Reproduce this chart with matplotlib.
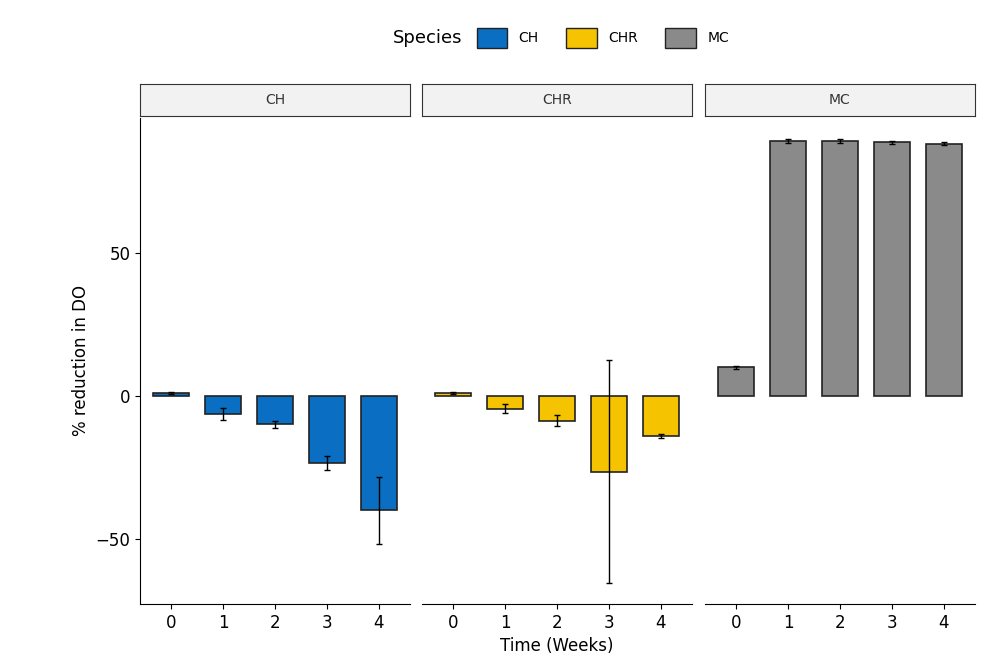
import matplotlib.pyplot as plt
from matplotlib.patches import Patch, Rectangle

species = ["CH", "CHR", "MC"]
weeks = [0, 1, 2, 3, 4]
means = {
    "CH": [1.0, -6.3, -10.0, -23.5, -40.0],
    "CHR": [1.0, -4.5, -8.7, -26.5, -14.0],
    "MC": [10.0, 89.0, 89.0, 88.5, 88.0],
}
errors = {
    "CH": [0.3, 2.0, 1.2, 2.5, 11.8],
    "CHR": [0.3, 1.5, 2.0, 39.0, 0.6],
    "MC": [0.5, 0.6, 0.6, 0.6, 0.6],
}
colors = {"CH": "#0a6fc2", "CHR": "#f5c300", "MC": "#8a8a8a"}

fig = plt.figure(figsize=(10.02, 6.68), dpi=100)
W, H = 1002, 668
left_px = [140, 422, 705]
pw = 270
top, bottom = 118, 604

for i, sp in enumerate(species):
    ax = fig.add_axes([left_px[i] / W, 1 - bottom / H, pw / W, (bottom - top) / H])
    ax.bar(weeks, means[sp], width=0.7, color=colors[sp], edgecolor="#222222", linewidth=1.2)
    ax.errorbar(weeks, means[sp], yerr=errors[sp], fmt="none", ecolor="black",
                elinewidth=1, capsize=2)
    ax.set_ylim(-72.7, 97)
    ax.set_xlim(-0.6, 4.6)
    ax.set_xticks(weeks)
    ax.tick_params(labelsize=12)
    for s in ["top", "right"]:
        ax.spines[s].set_visible(False)
    if i == 0:
        ax.set_yticks([-50, 0, 50])
        ax.set_ylabel("% reduction in DO", fontsize=12)
    else:
        ax.spines["left"].set_visible(False)
        ax.set_yticks([])
    if i == 1:
        ax.set_xlabel("Time (Weeks)", fontsize=12)
    # facet strip
    sax = fig.add_axes([left_px[i] / W, 1 - 116 / H, pw / W, 32 / H])
    sax.set_xticks([])
    sax.set_yticks([])
    sax.set_facecolor("#f2f2f2")
    for s in sax.spines.values():
        s.set_color("#333333")
    sax.text(0.5, 0.5, sp, ha="center", va="center", fontsize=10, color="#333333")

handles = [Patch(facecolor=colors[s], edgecolor="#222222", label=s) for s in species]
fig.legend(handles=handles, loc="center", bbox_to_anchor=(0.56, 1 - 38 / H), ncol=3,
           frameon=False, title="Species", title_fontsize=13, fontsize=10,
           handlelength=2.2, handleheight=1.8, alignment="left")
leg = fig.legends[0]
leg._legend_box.align = "left"
# put title at left of entries
from matplotlib.offsetbox import HPacker
box = leg._legend_box
box._children = [HPacker(children=box.get_children(), align="center", pad=0, sep=10)]

fig.savefig("out.png", dpi=100)
